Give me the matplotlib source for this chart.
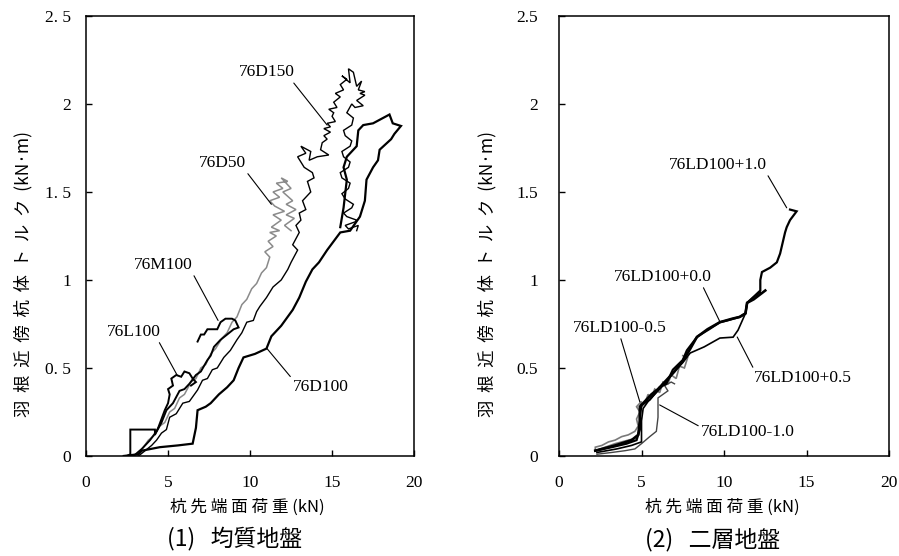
import matplotlib.pyplot as plt

#======Data======
# (1) homogeneous ground: tip load (kN) vs torque near the blade (kN*m), as (x, y) points
d100_pts = [(2.3, 0.0), (3.2, 0.01), (3.4, 0.03), (4.5, 0.05), (5.6, 0.06), (6.5, 0.07), (6.7, 0.16),
            (6.8, 0.26), (7.3, 0.28), (7.6, 0.30), (8.1, 0.35), (8.6, 0.39), (9.0, 0.43), (9.3, 0.50),
            (9.6, 0.56), (10.3, 0.58), (11.0, 0.61), (11.3, 0.68), (11.9, 0.74), (12.6, 0.83), (13.0, 0.90),
            (13.4, 0.99), (13.8, 1.06), (14.2, 1.10), (14.7, 1.17), (15.1, 1.22), (15.5, 1.27), (16.1, 1.28),
            (16.7, 1.36), (17.0, 1.45), (17.1, 1.57), (17.5, 1.64), (17.8, 1.68), (17.9, 1.74), (18.6, 1.80),
            (18.8, 1.83), (19.2, 1.875), (18.7, 1.89), (18.5, 1.94), (18.3, 1.93), (17.5, 1.89), (16.9, 1.88),
            (16.6, 1.85), (16.5, 1.76), (15.9, 1.70), (15.7, 1.64), (15.9, 1.57), (15.7, 1.41), (15.5, 1.30)]

l100_pts = [(2.5, 0.0), (2.7, 0.01), (2.7, 0.15), (3.4, 0.15), (4.2, 0.15), (4.2, 0.12), (4.4, 0.16),
            (4.6, 0.21), (4.8, 0.26), (5.0, 0.30), (5.1, 0.35), (5.0, 0.38), (5.3, 0.40), (5.2, 0.44),
            (5.5, 0.46), (5.8, 0.45), (6.0, 0.48), (6.3, 0.47), (6.5, 0.44), (6.7, 0.42), (6.4, 0.40)]

m100_pts = [(2.9, 0.0), (3.4, 0.04), (3.9, 0.09), (4.3, 0.14), (4.6, 0.19), (4.9, 0.26), (5.3, 0.30),
            (5.7, 0.37), (6.0, 0.38), (6.3, 0.41), (6.7, 0.46), (7.0, 0.48), (7.4, 0.545), (7.6, 0.57),
            (7.8, 0.62), (8.2, 0.66), (8.6, 0.69), (9.0, 0.72), (9.3, 0.73), (9.1, 0.77), (8.9, 0.78),
            (8.5, 0.78), (8.2, 0.76), (8.0, 0.72), (7.7, 0.72), (7.4, 0.72), (7.2, 0.69), (7.0, 0.69), (6.8, 0.65)]

d150_pts = [(3.2, 0.0), (3.6, 0.03), (4.0, 0.06), (4.3, 0.09), (4.6, 0.13), (4.9, 0.15), (5.1, 0.22),
            (5.5, 0.24), (5.9, 0.30), (6.3, 0.31), (6.8, 0.375), (7.1, 0.43), (7.4, 0.44), (7.7, 0.49),
            (8.0, 0.50), (8.4, 0.56), (8.8, 0.60), (9.2, 0.66), (9.5, 0.70), (9.8, 0.76), (10.2, 0.77),
            (10.4, 0.82), (10.6, 0.85), (11.0, 0.90), (11.2, 0.93), (11.4, 0.96), (11.9, 1.00), (12.3, 1.06),
            (12.5, 1.10), (12.9, 1.17), (12.6, 1.20), (13.0, 1.27), (12.8, 1.31), (13.1, 1.34), (13.0, 1.38),
            (13.4, 1.40), (13.2, 1.45), (13.7, 1.50), (13.5, 1.56), (13.9, 1.58), (13.8, 1.61), (13.3, 1.64),
            (12.9, 1.70), (13.4, 1.72), (13.1, 1.76), (13.7, 1.73), (13.6, 1.68), (14.1, 1.70), (14.8, 1.71),
            (14.3, 1.74), (14.4, 1.78), (14.7, 1.80), (14.5, 1.82), (14.9, 1.84), (14.5, 1.86), (14.9, 1.87),
            (14.7, 1.89), (15.2, 1.90), (15.0, 1.93), (15.1, 1.95), (14.8, 1.97), (15.3, 1.98), (15.1, 2.01),
            (15.5, 2.04), (15.2, 2.06), (15.7, 2.08), (15.5, 2.11), (15.9, 2.14), (15.6, 2.16), (16.1, 2.12),
            (16.0, 2.20), (16.3, 2.18), (16.5, 2.10), (16.8, 2.13), (16.6, 2.08), (17.0, 2.07), (16.7, 2.06),
            (17.0, 2.05), (16.5, 2.02), (16.9, 1.99), (16.4, 1.98), (16.2, 2.00), (15.9, 1.95), (16.3, 1.92),
            (16.2, 1.88), (15.7, 1.85), (15.8, 1.82), (16.2, 1.79), (16.1, 1.76), (15.6, 1.73), (15.7, 1.70),
            (16.1, 1.67), (16.0, 1.64), (15.5, 1.61), (15.6, 1.58), (16.1, 1.55), (16.0, 1.52), (15.6, 1.49),
            (15.8, 1.46), (16.3, 1.43), (16.2, 1.41), (15.7, 1.38), (15.9, 1.36), (16.5, 1.34), (16.4, 1.33),
            (15.8, 1.31), (16.0, 1.29), (16.6, 1.31), (16.5, 1.28)]

d50_pts = [(3.1, 0.0), (3.5, 0.05), (3.8, 0.09), (4.2, 0.12), (4.5, 0.17), (4.8, 0.19), (5.1, 0.25),
           (5.4, 0.27), (5.7, 0.33), (6.0, 0.35), (6.4, 0.42), (6.7, 0.44), (7.0, 0.50), (7.3, 0.52),
           (7.6, 0.58), (7.9, 0.61), (8.3, 0.67), (8.6, 0.70), (8.9, 0.76), (9.2, 0.79), (9.5, 0.86),
           (9.8, 0.89), (10.1, 0.95), (10.4, 0.98), (10.7, 1.04), (11.0, 1.07), (11.2, 1.13), (10.9, 1.16),
           (11.4, 1.19), (11.1, 1.22), (11.6, 1.25), (11.2, 1.27), (11.8, 1.28), (11.3, 1.30), (11.9, 1.34),
           (11.4, 1.37), (12.1, 1.39), (11.5, 1.42), (11.2, 1.45), (11.8, 1.47), (11.4, 1.50), (12.0, 1.52),
           (11.6, 1.55), (12.3, 1.56), (11.9, 1.58), (12.5, 1.52), (12.0, 1.50), (12.6, 1.45), (12.2, 1.43),
           (12.8, 1.40), (12.2, 1.37), (12.7, 1.35), (12.1, 1.31), (12.5, 1.28)]

# (2) two-layer ground
p10_pts = [(2.2, 0.03), (3.2, 0.05), (4.1, 0.07), (4.7, 0.09), (4.9, 0.15), (4.9, 0.22), (5.0, 0.29),
           (5.5, 0.32), (6.1, 0.39), (6.5, 0.41), (6.9, 0.49), (7.5, 0.545), (7.75, 0.60), (8.4, 0.68),
           (9.1, 0.72), (9.75, 0.76), (10.2, 0.77), (10.95, 0.79), (11.3, 0.81), (11.4, 0.87), (11.75, 0.90),
           (12.2, 0.94), (12.2, 1.0), (12.3, 1.045), (12.8, 1.07), (13.2, 1.10), (13.4, 1.15), (13.7, 1.27),
           (13.8, 1.30), (14.0, 1.34), (14.4, 1.39), (14.0, 1.40)]

p00_pts = [(2.2, 0.03), (3.4, 0.06), (4.4, 0.09), (4.8, 0.12), (4.9, 0.20), (4.9, 0.28), (5.2, 0.31),
           (5.6, 0.35), (6.0, 0.38), (6.5, 0.43), (7.0, 0.48), (7.5, 0.54), (7.9, 0.60), (8.35, 0.675),
           (9.0, 0.72), (9.75, 0.76), (10.5, 0.78), (10.95, 0.79), (11.3, 0.81), (11.4, 0.87), (11.8, 0.89),
           (12.5, 0.94)]

p05_pts = [(2.3, 0.02), (3.5, 0.04), (4.4, 0.06), (5.0, 0.08), (5.0, 0.20), (5.1, 0.27), (5.4, 0.31),
           (5.9, 0.36), (6.4, 0.41), (7.0, 0.48), (7.5, 0.53), (7.95, 0.585), (8.8, 0.62), (9.75, 0.67),
           (10.55, 0.675), (10.85, 0.715), (11.3, 0.81), (11.4, 0.87), (11.75, 0.90), (12.2, 0.93)]

m05_pts = [(4.6, 0.10), (3.4, 0.07), (2.2, 0.03), (2.2, 0.05), (2.6, 0.06), (3.0, 0.08), (3.4, 0.09),
           (3.8, 0.11), (4.2, 0.12), (4.6, 0.14), (4.8, 0.17), (4.7, 0.21), (4.9, 0.25), (4.7, 0.28),
           (5.0, 0.31), (4.9, 0.27), (5.2, 0.30), (5.4, 0.35), (5.6, 0.33), (5.8, 0.38), (6.1, 0.36),
           (6.3, 0.42), (6.6, 0.41), (6.8, 0.46), (7.1, 0.44), (7.3, 0.51), (7.6, 0.50), (7.8, 0.56), (7.5, 0.57)]

m10_pts = [(2.3, 0.01), (3.2, 0.02), (4.0, 0.03), (4.6, 0.04), (5.0, 0.07), (5.5, 0.11), (5.9, 0.14),
           (6.0, 0.22), (6.0, 0.33), (6.3, 0.35), (6.6, 0.37), (6.4, 0.40), (6.8, 0.42), (7.0, 0.41)]

xticks = [0, 5, 10, 15, 20]
yticks = [0, 0.5, 1, 1.5, 2, 2.5]
ylabels_left = ['0', '0. 5', '1', '1. 5', '2', '2. 5']
ylabels_right = ['0', '0.5', '1', '1.5', '2', '2.5']
#=========================================

CJK = ['Noto Sans CJK JP', 'DejaVu Sans']
SERIF = 'Liberation Serif'


def draw(ax, pts, **kw):
    xs, ys = zip(*pts)
    ax.plot(xs, ys, solid_joinstyle='miter', **kw)


def setup_axes(ax, ylabels, ypad):
    ax.set_xlim(0, 20)
    ax.set_ylim(0, 2.5)
    ax.set_xticks(xticks)
    ax.set_yticks(yticks)
    ax.set_xticklabels([str(t) for t in xticks], family=SERIF, fontsize=12.5)
    ax.set_yticklabels(ylabels, family=SERIF, fontsize=12.5)
    ax.tick_params(axis='x', direction='in', length=4, width=1, pad=14)
    ax.tick_params(axis='y', direction='in', length=4, width=1, pad=ypad)
    for s in ax.spines.values():
        s.set_linewidth(1.1)


def label(ax, txt, xy, xytext, relpos):
    ax.annotate(txt, xy=xy, xytext=xytext, ha='center', va='center',
                family=SERIF, fontsize=12.5,
                arrowprops=dict(arrowstyle='-', lw=0.8, color='black',
                                relpos=relpos, shrinkA=0, shrinkB=0))


fig = plt.figure(figsize=(8.99, 5.56), dpi=100)
ax1 = fig.add_axes([0.0957, 0.1799, 0.3649, 0.7914])
ax2 = fig.add_axes([0.6218, 0.1799, 0.3671, 0.7914])

# left panel
draw(ax1, d50_pts, color='#8a8a8a', lw=1.1)
draw(ax1, d150_pts, color='black', lw=1.0)
draw(ax1, m100_pts, color='black', lw=1.4)
draw(ax1, l100_pts, color='black', lw=1.4)
draw(ax1, d100_pts, color='black', lw=1.6)
setup_axes(ax1, ylabels_left, 11)

label(ax1, '76D150', (14.7, 1.88), (11.0, 2.18), (0.95, 0.0))
label(ax1, '76D50', (11.3, 1.43), (8.3, 1.665), (1.0, 0.0))
label(ax1, '76M100', (8.05, 0.77), (4.7, 1.085), (1.0, 0.0))
label(ax1, '76L100', (5.55, 0.46), (2.9, 0.705), (0.95, 0.0))
label(ax1, '76D100', (11.0, 0.614), (14.3, 0.39), (0.0, 1.0))

# right panel
draw(ax2, m05_pts, color='#7a7a7a', lw=1.2)
draw(ax2, m10_pts, color='#444444', lw=1.0)
draw(ax2, p05_pts, color='black', lw=1.2)
draw(ax2, p00_pts, color='black', lw=1.9)
draw(ax2, p10_pts, color='black', lw=1.6)
setup_axes(ax2, ylabels_right, 15)

label(ax2, '76LD100+1.0', (13.8, 1.41), (9.6, 1.653), (1.0, 0.0))
label(ax2, '76LD100+0.0', (9.76, 0.761), (6.3, 1.017), (0.9, 0.0))
label(ax2, '76LD100-0.5', (4.9, 0.307), (3.7, 0.727), (0.5, 0.0))
label(ax2, '76LD100+0.5', (10.8, 0.676), (14.8, 0.443), (0.0, 1.0))
label(ax2, '76LD100-1.0', (6.1, 0.29), (11.45, 0.136), (0.0, 0.8))

# axis titles and captions, placed like the scanned figure
ylab = '羽  根  近  傍  杭  体  ト  ル  ク  (kN·m)'
fig.text(23 / 899, 1 - 274 / 556, ylab, rotation=90, ha='center', va='center', family=CJK, fontsize=12.5)
fig.text(487 / 899, 1 - 274 / 556, ylab, rotation=90, ha='center', va='center', family=CJK, fontsize=12.5)

xlab = '杭 先 端 面 荷 重 (kN)'
fig.text(247 / 899, 1 - 507 / 556, xlab, ha='center', va='center', family=CJK, fontsize=12)
fig.text(722 / 899, 1 - 507 / 556, xlab, ha='center', va='center', family=CJK, fontsize=12)

fig.text(235 / 899, 1 - 538 / 556, '(1)   均質地盤', ha='center', va='center', family=CJK, fontsize=16.5)
fig.text(713 / 899, 1 - 540 / 556, '(2)   二層地盤', ha='center', va='center', family=CJK, fontsize=16.5)

fig.savefig('out.png', dpi=100)
